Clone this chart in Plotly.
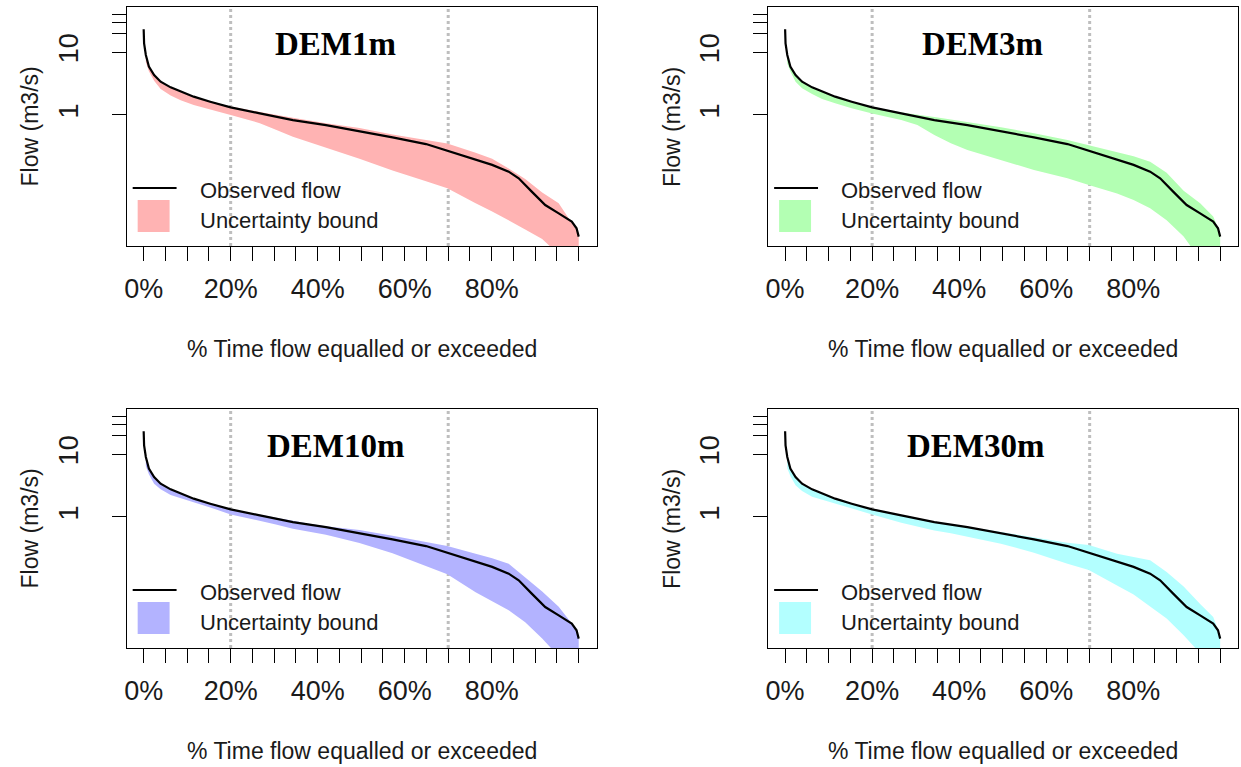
import plotly.graph_objects as go

# ---------------- data ----------------
PANELS = ["DEM1m", "DEM3m", "DEM10m", "DEM30m"]
BAND_COLORS = ["#FFB3B3", "#B3FFB3", "#B3B3FF", "#B3FFFF"]

# observed flow duration curve (% time exceeded, flow m3/s)
X_OBS = [0, 0.1, 0.5, 1.2, 2.4, 3.9, 6.2, 8.5, 11.5, 15.3, 20, 26.7, 34.3, 41.9,
         49.6, 57.2, 64.9, 69.8, 76.3, 80.1, 83.9, 86.2, 89.2, 92.3, 95.4, 98.4, 99.5, 100]
Q_OBS = [23.3, 13.9, 9.05, 5.9, 4.34, 3.40, 2.76, 2.35, 1.96, 1.63, 1.32, 1.06, 0.83, 0.69,
         0.556, 0.44, 0.344, 0.27, 0.191, 0.16, 0.125, 0.098, 0.060, 0.0367, 0.027, 0.020, 0.0156, 0.0115]

# uncertainty bounds, shared x grid
X_BAND = [0.5, 1.2, 2.4, 3.9, 6.2, 8.5, 11.5, 15.3, 20, 26.7, 30.4, 34.3, 38.1, 41.9,
          49.6, 57.2, 64.9, 69.8, 76.3, 80.1, 83.9, 87.7, 91.6, 95.4, 98.4, 100]

UPPER_DEM1 = [9.0, 5.9, 4.34, 3.40, 2.76, 2.35, 1.96, 1.63, 1.36, 1.12, 1.0, 0.90, 0.82, 0.74,
              0.62, 0.49, 0.40, 0.35, 0.25, 0.20, 0.14, 0.095, 0.058, 0.039, 0.019, 0.013]
LOWER_DEM1 = [7.0, 5.0, 3.5, 2.6, 2.05, 1.72, 1.44, 1.22, 1.0, 0.74, 0.58, 0.45, 0.37, 0.30,
              0.20, 0.13, 0.088, 0.068, 0.039, 0.029, 0.021, 0.015, 0.0105, 0.006, 0.004, 0.003]

UPPER_DEM3 = [9.0, 5.9, 4.34, 3.40, 2.76, 2.35, 1.96, 1.63, 1.34, 1.10, 1.0, 0.93, 0.85, 0.78,
              0.64, 0.51, 0.40, 0.33, 0.26, 0.22, 0.18, 0.12, 0.062, 0.039, 0.024, 0.013]
LOWER_DEM3 = [6.7, 5.0, 3.4, 2.66, 2.16, 1.8, 1.54, 1.28, 1.06, 0.83, 0.69, 0.48, 0.353, 0.277,
              0.191, 0.133, 0.098, 0.0765, 0.056, 0.044, 0.0325, 0.021, 0.0115, 0.005, 0.004, 0.003]

UPPER_DEM10 = [9.0, 5.9, 4.34, 3.40, 2.76, 2.35, 1.96, 1.63, 1.34, 1.09, 0.97, 0.86, 0.78, 0.71,
               0.62, 0.50, 0.40, 0.345, 0.26, 0.22, 0.18, 0.108, 0.065, 0.037, 0.020, 0.013]
LOWER_DEM10 = [6.5, 4.8, 3.4, 2.76, 2.24, 1.98, 1.73, 1.42, 1.10, 0.86, 0.76, 0.65, 0.58, 0.52,
               0.385, 0.263, 0.165, 0.122, 0.063, 0.045, 0.0325, 0.021, 0.0115, 0.006, 0.004, 0.003]

UPPER_DEM30 = [9.0, 5.9, 4.34, 3.40, 2.76, 2.35, 1.96, 1.63, 1.33, 1.07, 0.95, 0.84, 0.77, 0.70,
               0.57, 0.48, 0.39, 0.357, 0.26, 0.23, 0.204, 0.133, 0.078, 0.041, 0.0255, 0.013]
LOWER_DEM30 = [6.0, 4.5, 3.2, 2.6, 2.1, 1.85, 1.63, 1.36, 1.10, 0.81, 0.71, 0.61, 0.55, 0.49,
               0.376, 0.27, 0.18, 0.143, 0.081, 0.058, 0.037, 0.024, 0.013, 0.0068, 0.004, 0.003]

UPPERS = [UPPER_DEM1, UPPER_DEM3, UPPER_DEM10, UPPER_DEM30]
LOWERS = [LOWER_DEM1, LOWER_DEM3, LOWER_DEM10, LOWER_DEM30]

VLINES = [20, 70]
X_TICKS = list(range(0, 101, 5))
X_TICK_TEXT = [f"{v}%" if v in (0, 20, 40, 60, 80) else "" for v in X_TICKS]
Y_TICKS = [1, 10, 20, 30, 40]
Y_TICK_TEXT = ["1", "10", "", "", ""]

LEGEND_LABELS = ["Observed flow", "Uncertainty bound"]
X_TITLE = "% Time flow equalled or exceeded"
Y_TITLE = "Flow (m3/s)"

# ---------------- layout geometry (pixels) ----------------
W, H = 1241, 767
BOX_X = [(124, 595), (767, 1238), (124, 595), (767, 1238)]
BOX_Y = [(7, 246), (7, 246), (409, 648), (409, 648)]
TITLE_CX = [0.444, 0.457, 0.444, 0.442]

SANS = "Liberation Sans, Arial, sans-serif"
SERIF = "Liberation Serif, Times New Roman, serif"

fig = go.Figure()
layout = dict(
    width=W, height=H, margin=dict(l=0, r=0, t=0, b=0),
    paper_bgcolor="white", plot_bgcolor="white", showlegend=False,
)
shapes, annotations = [], []

for i, name in enumerate(PANELS):
    n = "" if i == 0 else str(i + 1)
    xa, ya = "x" + n, "y" + n
    x0, x1 = BOX_X[i]
    y0, y1 = BOX_Y[i]
    bw, bh = x1 - x0, y1 - y0

    # uncertainty band polygon
    fig.add_trace(go.Scatter(
        x=X_BAND + X_BAND[::-1], y=UPPERS[i] + LOWERS[i][::-1],
        fill="toself", fillcolor=BAND_COLORS[i], line=dict(width=0),
        mode="lines", hoverinfo="skip", xaxis=xa, yaxis=ya))
    # observed
    fig.add_trace(go.Scatter(
        x=X_OBS, y=Q_OBS, mode="lines", line=dict(color="black", width=2.2),
        xaxis=xa, yaxis=ya))

    axis_common = dict(showline=True, linecolor="black", linewidth=1, mirror=True,
                       showgrid=False, zeroline=False, ticks="outside",
                       tickcolor="black", tickwidth=1, ticklen=14,
                       tickfont=dict(family=SANS, size=27, color="#1a1a1a"))
    layout["xaxis" + n] = dict(
        axis_common, domain=[x0 / W, x1 / W], anchor=ya, range=[-3.9, 104.1],
        tickmode="array", tickvals=X_TICKS, ticktext=X_TICK_TEXT, ticklabelstandoff=5)
    layout["yaxis" + n] = dict(
        axis_common, domain=[1 - y1 / H, 1 - y0 / H], anchor=xa, type="log",
        range=[-2.089, 1.722], tickmode="array", tickvals=Y_TICKS,
        ticktext=Y_TICK_TEXT, tickangle=-90, ticklabelstandoff=23)

    # dotted reference lines
    for v in VLINES:
        shapes.append(dict(type="line", xref=xa, yref=ya + " domain", x0=v, x1=v,
                           y0=0, y1=1, line=dict(color="#BEBEBE", width=3, dash="dot"),
                           layer="below"))

    # panel title
    annotations.append(dict(text="<b>" + name + "</b>", xref=xa + " domain",
                            yref=ya + " domain", x=TITLE_CX[i], y=1 - 37 / bh,
                            xanchor="center", yanchor="middle", showarrow=False,
                            font=dict(family=SERIF, size=33, color="black")))

    # legend (drawn manually, R-style, no box)
    shapes.append(dict(type="line", xref=xa + " domain", yref=ya + " domain",
                       x0=6 / bw, x1=50 / bw, y0=1 - 181 / bh, y1=1 - 181 / bh,
                       line=dict(color="black", width=2)))
    shapes.append(dict(type="rect", xref=xa + " domain", yref=ya + " domain",
                       x0=11 / bw, x1=43 / bw, y0=1 - 225 / bh, y1=1 - 193 / bh,
                       fillcolor=BAND_COLORS[i], line=dict(width=0)))
    for k, lab in enumerate(LEGEND_LABELS):
        annotations.append(dict(text=lab, xref=xa + " domain", yref=ya + " domain",
                                x=71 / bw, y=1 - (183 + 30 * k) / bh, xanchor="left",
                                yanchor="middle", showarrow=False,
                                font=dict(family=SANS, size=22, color="#1a1a1a")))

    # axis titles
    annotations.append(dict(text=X_TITLE, xref="paper", yref="paper",
                            x=(x0 + x1) / 2 / W, y=1 - (y1 + 103) / H,
                            xanchor="center", yanchor="middle", showarrow=False,
                            font=dict(family=SANS, size=23, color="#1a1a1a")))
    annotations.append(dict(text=Y_TITLE, xref="paper", yref="paper",
                            x=(x0 - 97) / W, y=1 - (y0 + y1) / 2 / H, textangle=-90,
                            xanchor="center", yanchor="middle", showarrow=False,
                            font=dict(family=SANS, size=23, color="#1a1a1a")))

layout["shapes"] = shapes
layout["annotations"] = annotations
fig.update_layout(**layout)

fig.write_html("out.html", config={"displayModeBar": False},
               post_script="document.body.style.margin='0';")
